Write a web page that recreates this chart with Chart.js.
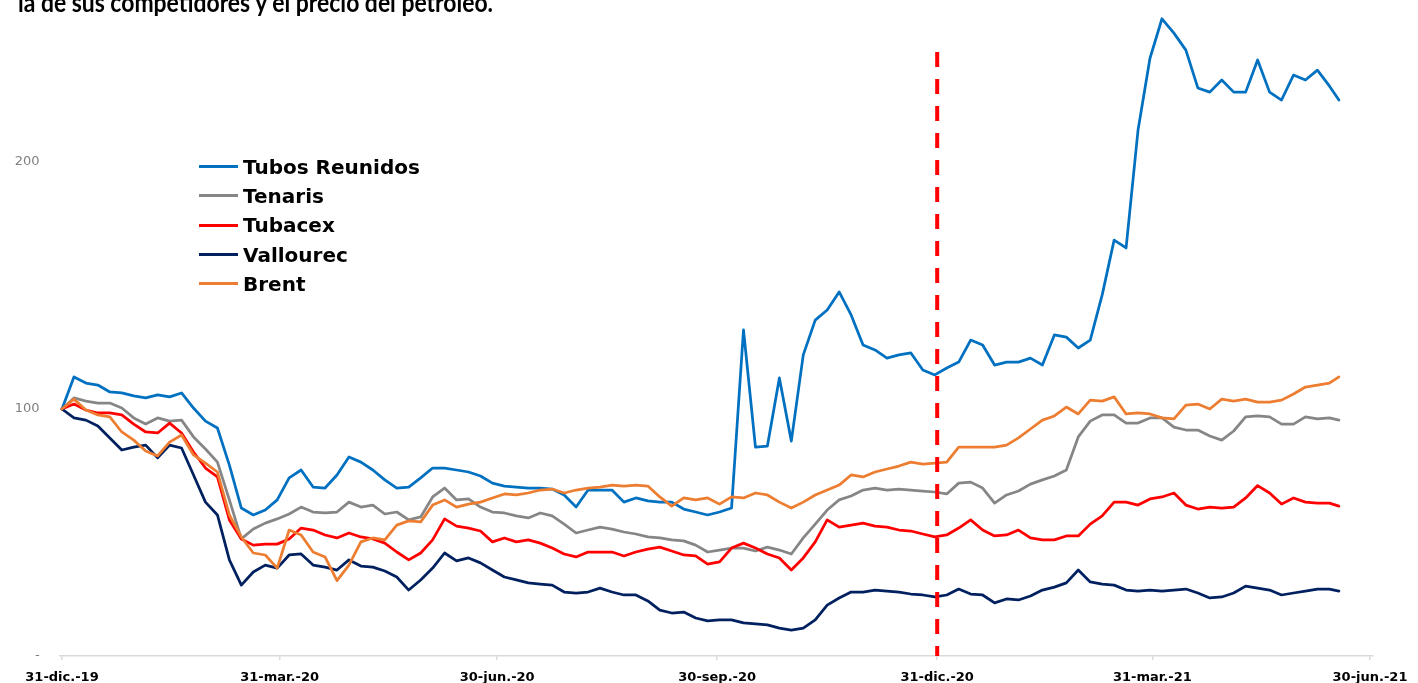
<!DOCTYPE html>
<html lang="es">
<head>
<meta charset="utf-8">
<title>Tubos Reunidos frente a competidores y Brent</title>
<script src="https://cdn.jsdelivr.net/npm/chart.js@4.4.1/dist/chart.umd.min.js"></script>
<style>
    html, body { margin: 0; padding: 0; background: #fff; }
    #wrap { position: relative; width: 1418px; height: 683px; overflow: hidden; }
    #chart { position: absolute; left: 0; top: 0; }
    #title { position: absolute; left: 0; top: 0; }
    #legend {
        position: absolute; left: 199px; top: 152px;
        font-family: "DejaVu Sans", sans-serif; font-weight: bold; font-size: 20px; color: #000;
    }
    #legend .row { display: flex; align-items: center; height: 29.3px; white-space: nowrap; }
    #legend .swatch { display: inline-block; width: 39px; height: 3px; margin-right: 5px; }
</style>
</head>
<body>
<div id="wrap">
    <canvas id="chart" width="1418" height="683"></canvas>
    <svg id="title" width="1418" height="30">
        <text x="18" y="12" textLength="475" lengthAdjust="spacingAndGlyphs"
              font-family="Lato, 'Open Sans', sans-serif" font-weight="bold" font-size="26" fill="#000">la de sus competidores y el precio del petróleo.</text>
    </svg>
    <div id="legend"></div>
</div>
<script>
// Sample dates: days since 31-dic.-19, one reading every 5 days (last one mid-June 2021)
const sampleDays = [];
for (let d = 0; d <= 530; d += 5) sampleDays.push(d);
sampleDays.push(534);

// X axis ticks (days since 31-dic.-19) and their labels
const tickDays = [0, 91, 182, 274, 366, 456, 547];
const tickLabels = ['31-dic.-19', '31-mar.-20', '30-jun.-20', '30-sep.-20', '31-dic.-20', '31-mar.-21', '30-jun.-21'];

// Y axis ticks
const yTicks = [0, 100, 200];

// Series, base 100 at 31-dic.-19
const tubosReunidos = [
    100, 113, 110.5, 109.7, 106.9, 106.5, 105.3, 104.5, 105.7, 104.9,
    106.5, 100.4, 95.1, 92.3, 77.3, 59.9, 57.1, 59.1, 63.2, 72.1,
    75.3, 68.4, 68.0, 73.3, 80.6, 78.5, 75.3, 71.3, 68.0, 68.4,
    72.1, 76.1, 76.1, 75.3, 74.5, 72.9, 70.0, 68.8, 68.4, 68.0,
    68.0, 67.6, 65.2, 60.3, 67.2, 67.2, 67.2, 62.3, 64.0, 62.8,
    62.3, 62.3, 59.5, 58.3, 57.1, 58.3, 59.9, 132.0, 84.6, 85.0,
    112.6, 87.0, 121.9, 136.0, 140.1, 147.4, 138.1, 125.9, 123.9, 120.6,
    121.9, 122.7, 115.8, 113.8, 116.6, 119.0, 127.9, 125.9, 117.8, 119.0,
    119.0, 120.6, 117.8, 130.0, 129.1, 124.7, 127.9, 146.2, 168.4, 165.2,
    213.0, 242.1, 258.0, 252.2, 245.3, 230.0, 228.3, 233.2, 228.3, 228.3,
    241.3, 228.3, 225.1, 235.2, 233.2, 237.2, 230.8, 225.1
];
const tenaris = [
    100, 104.5, 103.2, 102.4, 102.4, 100.4, 96.4, 93.9, 96.4, 95.1,
    95.5, 88.7, 83.8, 78.5, 63.2, 47.4, 51.4, 53.8, 55.5, 57.5,
    60.3, 58.3, 57.9, 58.3, 62.3, 60.3, 61.1, 57.5, 58.3, 55.1,
    56.3, 64.4, 68.0, 63.2, 63.6, 60.3, 58.3, 57.9, 56.7, 55.9,
    57.9, 56.7, 53.4, 49.8, 51.0, 52.2, 51.4, 50.2, 49.4, 48.2,
    47.8, 47.0, 46.6, 44.9, 42.1, 42.9, 43.7, 43.7, 42.5, 44.1,
    42.9, 41.3, 47.8, 53.4, 59.1, 63.2, 64.8, 67.2, 68.0, 67.2,
    67.6, 67.2, 66.8, 66.4, 65.6, 70.0, 70.4, 68.0, 61.9, 65.2,
    66.8, 69.6, 71.3, 72.9, 75.3, 88.7, 95.1, 97.6, 97.6, 94.3,
    94.3, 96.4, 96.4, 92.7, 91.5, 91.5, 89.1, 87.4, 91.1, 96.8,
    97.2, 96.8, 93.9, 93.9, 96.8, 96.0, 96.4, 95.5
];
const tubacex = [
    100, 102.0, 99.6, 98.4, 98.4, 97.6, 93.9, 90.7, 90.3, 94.3,
    90.3, 82.6, 76.1, 72.5, 55.1, 47.4, 44.9, 45.3, 45.3, 47.4,
    51.8, 51.0, 49.0, 47.8, 49.8, 48.2, 47.4, 45.7, 42.1, 38.9,
    41.7, 47.0, 55.5, 52.6, 51.8, 50.6, 46.2, 47.8, 46.2, 47.0,
    45.7, 43.7, 41.3, 40.1, 42.1, 42.1, 42.1, 40.5, 42.1, 43.3,
    44.1, 42.5, 40.9, 40.5, 37.2, 38.1, 43.7, 45.7, 43.7, 41.3,
    39.7, 34.8, 39.7, 46.2, 55.1, 52.2, 53.0, 53.8, 52.6, 52.2,
    51.0, 50.6, 49.4, 48.2, 49.0, 51.8, 55.1, 51.0, 48.6, 49.0,
    51.0, 47.8, 47.0, 47.0, 48.6, 48.6, 53.4, 56.7, 62.3, 62.3,
    61.1, 63.6, 64.4, 66.0, 61.1, 59.5, 60.3, 59.9, 60.3, 64.0,
    69.0, 66.0, 61.5, 64.0, 62.3, 61.9, 61.9, 60.7
];
const vallourec = [
    100, 96.4, 95.5, 93.1, 88.3, 83.4, 84.6, 85.4, 80.2, 85.4,
    84.2, 73.3, 62.3, 57.1, 38.9, 28.7, 34.0, 36.8, 35.6, 40.9,
    41.3, 36.8, 36.0, 34.8, 38.9, 36.4, 36.0, 34.4, 32.0, 26.7,
    30.8, 35.6, 41.7, 38.5, 39.7, 37.7, 34.8, 32.0, 30.8, 29.6,
    29.1, 28.7, 25.9, 25.5, 25.9, 27.5, 25.9, 24.7, 24.7, 22.3,
    18.6, 17.4, 17.8, 15.4, 14.2, 14.6, 14.6, 13.4, 13.0, 12.6,
    11.3, 10.5, 11.3, 14.6, 20.6, 23.5, 25.9, 25.9, 26.7, 26.3,
    25.9, 25.1, 24.7, 23.9, 24.7, 27.1, 25.1, 24.7, 21.5, 23.1,
    22.7, 24.3, 26.7, 27.9, 29.6, 34.8, 30.0, 29.1, 28.7, 26.7,
    26.3, 26.7, 26.3, 26.7, 27.1, 25.5, 23.5, 23.9, 25.5, 28.3,
    27.5, 26.7, 24.7, 25.5, 26.3, 27.1, 27.1, 26.3
];
const brent = [
    100, 104.0, 99.6, 97.6, 96.8, 90.7, 87.4, 83.0, 81.0, 86.6,
    89.5, 81.4, 78.1, 74.5, 57.1, 48.2, 41.7, 40.9, 35.6, 51.0,
    49.0, 42.1, 40.1, 30.5, 36.8, 46.2, 47.8, 47.0, 53.0, 54.7,
    54.3, 61.1, 63.2, 60.3, 61.5, 62.3, 64.0, 65.6, 65.2, 66.0,
    67.2, 67.6, 66.0, 67.2, 68.0, 68.4, 69.2, 68.8, 69.2, 68.8,
    64.4, 60.7, 64.0, 63.2, 64.0, 61.5, 64.4, 64.0, 66.0, 65.2,
    62.3, 59.9, 62.3, 65.2, 67.2, 69.2, 73.3, 72.5, 74.5, 75.7,
    76.9, 78.5, 77.7, 78.1, 78.5, 84.6, 84.6, 84.6, 84.6, 85.4,
    88.3, 91.9, 95.5, 97.2, 100.8, 98.0, 103.6, 103.2, 104.9, 98.0,
    98.4, 98.0, 96.4, 96.0, 101.6, 102.0, 100.0, 104.0, 103.2, 104.0,
    102.8, 102.8, 103.6, 106.1, 108.9, 109.7, 110.5, 113.0
];

const seriesNames = ['Tubos Reunidos', 'Tenaris', 'Tubacex', 'Vallourec', 'Brent'];
const seriesValues = [tubosReunidos, tenaris, tubacex, vallourec, brent];
const seriesColors = ['#0070C0', '#868686', '#FF0000', '#002060', '#ED7D31'];

// Vertical dashed marker at 31-dic.-20
const markerDay = 366;
const markerRange = [0, 244.5];

Chart.defaults.font.family = '"DejaVu Sans", sans-serif';

// Build the line datasets
function buildDatasets() {
    const datasets = seriesNames.map(function(name, i) {
        return {
            label: name,
            data: seriesValues[i].map(function(v, j) { return { x: sampleDays[j], y: v }; }),
            borderColor: seriesColors[i],
            backgroundColor: seriesColors[i],
            borderWidth: 2.75,
            pointRadius: 0,
            tension: 0,
            borderJoinStyle: 'round',
            borderCapStyle: 'round',
            order: seriesNames.length - i
        };
    });

    // Dashed marker line
    datasets.push({
        label: 'marker',
        isMarker: true,
        data: [{ x: markerDay, y: markerRange[1] }, { x: markerDay, y: markerRange[0] }],
        borderColor: '#FF0000',
        borderWidth: 4,
        borderDash: [15, 12],
        pointRadius: 0,
        order: 0
    });
    return datasets;
}

// Build chart
const chart = new Chart(document.getElementById('chart').getContext('2d'), {
    type: 'line',
    data: { datasets: buildDatasets() },
    options: {
        responsive: false,
        animation: false,
        devicePixelRatio: 1,
        layout: { padding: { left: 0, right: 45.6, top: 0, bottom: 0 } },
        plugins: {
            legend: { display: false },
            tooltip: { enabled: false }
        },
        scales: {
            x: {
                type: 'linear',
                min: -1,
                max: 548,
                afterFit: function(scale) { scale.height = 27; },
                afterBuildTicks: function(scale) {
                    scale.ticks = tickDays.map(function(d) { return { value: d }; });
                },
                grid: {
                    drawOnChartArea: false,
                    drawTicks: true,
                    tickLength: 4,
                    color: '#d9d9d9',
                    lineWidth: 1.5
                },
                border: { display: true, color: '#d9d9d9', width: 1.5 },
                ticks: {
                    autoSkip: false,
                    maxRotation: 0,
                    padding: 10,
                    color: '#000',
                    font: { size: 13, weight: 'bold' },
                    callback: function(value, index) { return tickLabels[index]; }
                }
            },
            y: {
                min: 0,
                max: 265.6,
                afterFit: function(scale) {
                    scale.width = 59.6;
                    // labels sit well inside the plot, no extra room needed above/below
                    scale.paddingTop = 0;
                    scale.paddingBottom = 0;
                },
                afterBuildTicks: function(scale) {
                    scale.ticks = yTicks.map(function(v) { return { value: v }; });
                },
                grid: { display: false, drawTicks: true, tickLength: 20 },
                border: { display: false },
                ticks: {
                    padding: 0,
                    color: '#808080',
                    font: { size: 13 },
                    callback: function(value) { return value === 0 ? '-' : value; }
                }
            }
        }
    }
});

// HTML legend from the chart's own datasets
function buildLegend() {
    const box = document.getElementById('legend');
    chart.data.datasets.forEach(function(ds) {
        if (ds.isMarker) return;
        const row = document.createElement('div');
        row.className = 'row';
        const swatch = document.createElement('span');
        swatch.className = 'swatch';
        swatch.style.background = ds.borderColor;
        const label = document.createElement('span');
        label.textContent = ds.label;
        row.appendChild(swatch);
        row.appendChild(label);
        box.appendChild(row);
    });
}

buildLegend();
</script>
</body>
</html>
